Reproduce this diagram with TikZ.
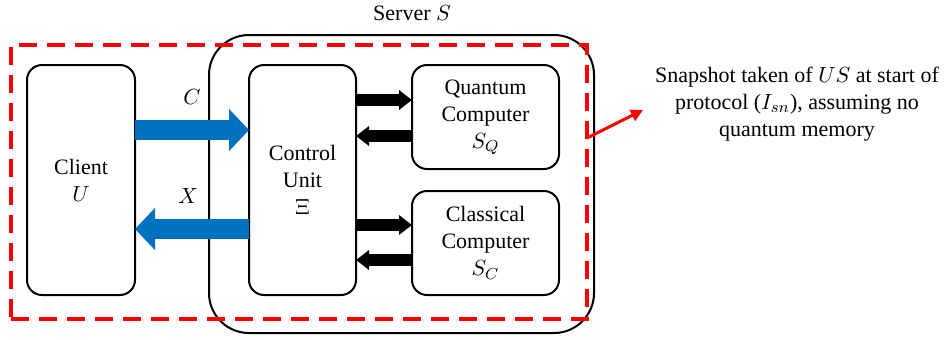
\documentclass[tikz,border=0pt]{standalone}
\usepackage{fontspec}
\setmainfont{Liberation Serif}
\usetikzlibrary{arrows.meta}
\definecolor{arrowblue}{RGB}{0,112,192}

\begin{document}
\begin{tikzpicture}[x=0.5pt,y=-0.5pt,
  every node/.style={font=\fontsize{11}{13.5}\selectfont, inner sep=0pt, outer sep=0pt, align=center},
  unitbox/.style={draw, line width=1pt, rounded corners=7.5pt},
  bigarrow/.style={arrowblue, line width=10pt, -{Triangle[width=20.5pt,length=10pt]}},
  smallarrow/.style={black, line width=6pt, -{Triangle[width=9.5pt,length=6.5pt]}}]
\useasboundingbox (0,0) rectangle (947,339);
\node[draw, line width=1pt, rounded corners=20pt, minimum width=192.5pt, minimum height=149pt] (server) at (401.5,184){};
\node (serverlabel) at (412,13){Server $S$};
\node[draw=red, line width=2pt, dash pattern=on 9pt off 5pt, minimum width=288pt, minimum height=137pt] (snap) at (299,182){};
\node[unitbox, minimum width=54pt, minimum height=115pt] (client) at (81,180){Client\\$U$};
\node[unitbox, minimum width=53.5pt, minimum height=115pt] (ctrl) at (302.5,180){Control\\Unit\\$\Xi$};
\node[unitbox, minimum width=73.5pt, minimum height=52pt] (quantum) at (485.5,117){Quantum\\Computer\\$S_Q$};
\node[unitbox, minimum width=73.5pt, minimum height=52pt] (classical) at (485.5,243){Classical\\Computer\\$S_C$};
% client <-> control unit
\draw[bigarrow] ([yshift=25pt]client.east) -- ([yshift=25pt]ctrl.west) node[midway, above=13pt, black]{$C$};
\draw[bigarrow] ([yshift=-24.5pt]ctrl.west) -- ([yshift=-24.5pt]client.east) node[midway, above=13pt, xshift=-2pt, black]{$X$};
% control unit <-> computers
\coordinate (q1) at ([yshift=8.5pt]quantum.west);
\coordinate (q2) at ([yshift=-9.5pt]quantum.west);
\coordinate (c1) at ([yshift=9pt]classical.west);
\coordinate (c2) at ([yshift=-8.5pt]classical.west);
\draw[smallarrow] (ctrl.east |- q1) -- (q1);
\draw[smallarrow] (q2) -- (ctrl.east |- q2);
\draw[smallarrow] (ctrl.east |- c1) -- (c1);
\draw[smallarrow] (c2) -- (ctrl.east |- c2);
% note
\node (note) at (797,104){Snapshot taken of $US$ at start of\\protocol ($I_{sn}$), assuming no\\quantum memory};
\coordinate (noteend) at (643,110);
\draw[red, line width=1.5pt, -{Triangle[width=6pt,length=6pt]}] (snap.east |- 0,138) -- (noteend);
\end{tikzpicture}
\end{document}
